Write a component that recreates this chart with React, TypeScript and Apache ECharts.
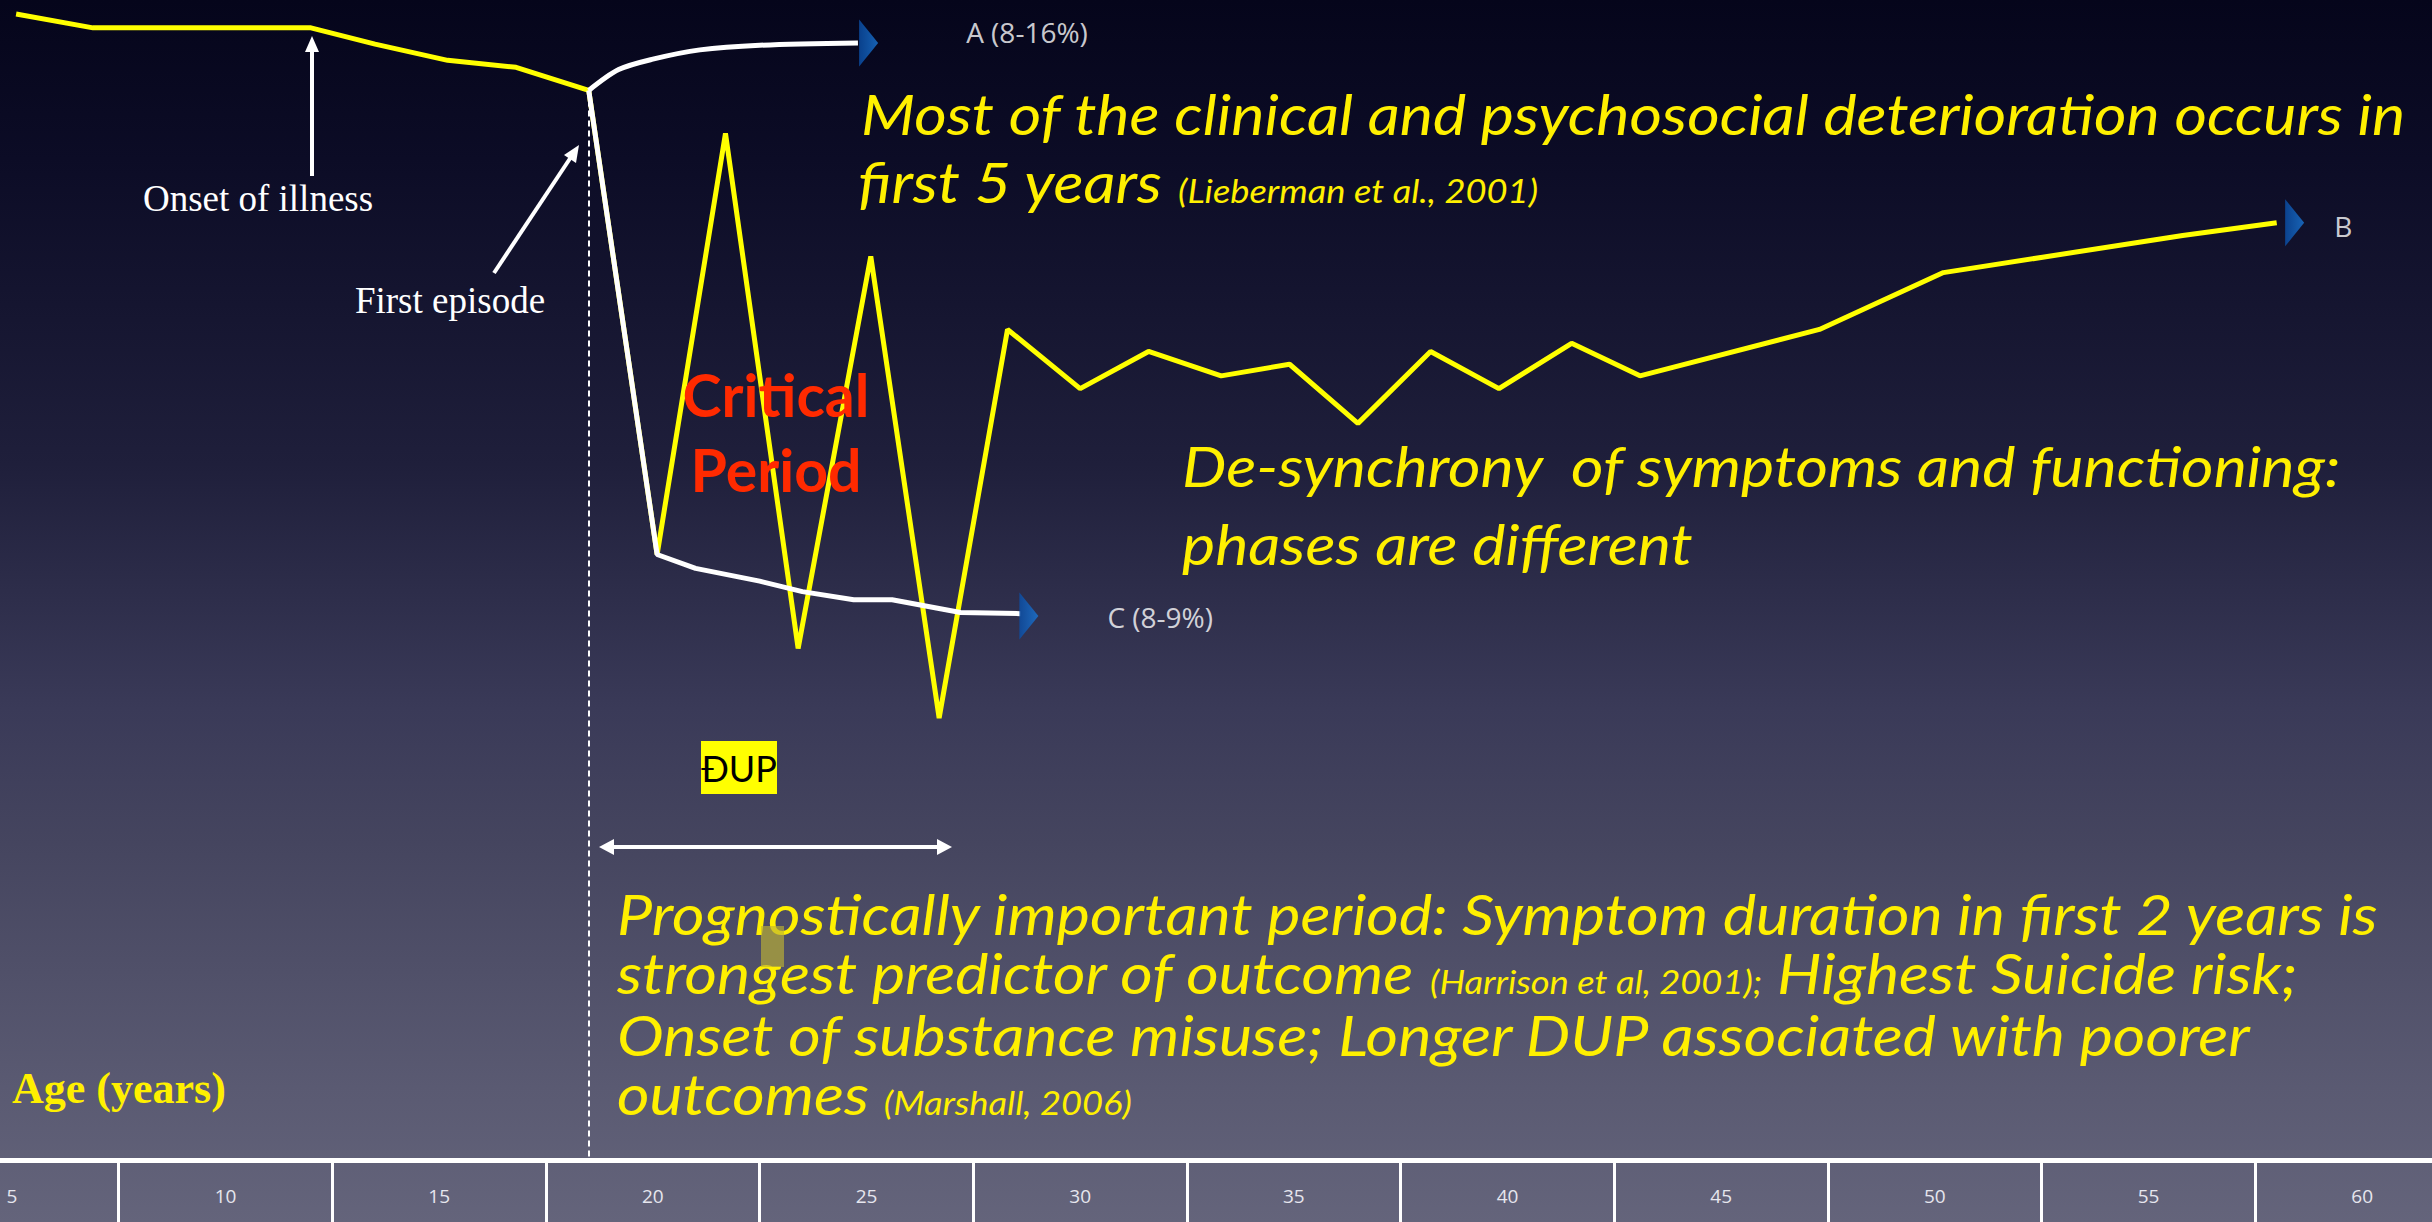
import React, { useEffect, useRef } from "react";
import * as echarts from "echarts";

// ---- data ----
const ageTicks = ["5", "10", "15", "20", "25", "30", "35", "40", "45", "50", "55", "60"];

// functioning / symptom course (yellow)
const yellowAges = [5.1, 6.9, 12.0, 13.5, 15.2, 16.8, 18.5, 20.1, 21.7, 23.4, 25.1, 26.7, 28.3, 30.0, 31.6, 33.3, 34.9, 36.5, 38.2, 39.8, 41.5, 43.1, 47.3, 50.2, 55.8, 58.0];
const yellowLevels = [98.8, 97.6, 97.6, 96.2, 94.8, 94.2, 92.2, 52.2, 88.5, 44.1, 77.9, 38.1, 71.6, 66.5, 69.7, 67.6, 68.6, 63.5, 69.7, 66.5, 70.4, 67.6, 71.6, 76.5, 79.7, 80.8];

// outcome A (white, recovery)
const whiteAAges = [18.5, 19.2, 20.0, 21.1, 22.5, 24.8];
const whiteALevels = [92.2, 94.0, 94.9, 95.7, 96.1, 96.3];

// outcome C (white, poor)
const whiteCAges = [18.5, 20.1, 21.0, 22.5, 23.5, 24.7, 25.6, 27.2, 28.6];
const whiteCLevels = [92.2, 52.2, 51.0, 49.9, 49.0, 48.3, 48.3, 47.2, 47.1];

// outcome arrow heads
const arrowNames = ["A (8-16%)", "C (8-9%)", "B"];
const arrowAges = [25.05, 28.8, 58.42];
const arrowLevels = [96.3, 46.9, 80.8];

const firstEpisodeAge = 18.5;
const firstEpisodeLevel = 92.2;

// ---- styles ----
const YELLOW_TEXT = "#fff000";
const SANS = "Lato, 'Open Sans', sans-serif";
const SERIF = "'Liberation Serif', 'DejaVu Serif', serif";
const OX = 95; // chart canvas starts 95px left of the page
const SX = 1.1;

function zip(a: number[], b: number[]) {
  return a.map((v, i) => [v, b[i]]);
}

export default function App() {
  const ref = useRef<HTMLDivElement>(null);

  useEffect(() => {
    if (!ref.current) return;
    const chart = echarts.init(ref.current, undefined, { renderer: "svg" });
    const gx = (x: number) => x + OX;

    const labelCfg = [
      { distance: 88, offset: [0, -11] },
      { distance: 69, offset: [0, 1] },
      { distance: 30, offset: [0, 3] },
    ];

    const bigStyle = { fontFamily: SANS, fontStyle: "italic", fontSize: 57, fill: YELLOW_TEXT };

    const rich = {
      b: { fontFamily: SANS, fontStyle: "italic", fontSize: 57, fill: YELLOW_TEXT, lineHeight: 68 },
      s: { fontFamily: SANS, fontStyle: "italic", fontSize: 33, fill: YELLOW_TEXT, lineHeight: 40, verticalAlign: "middle", padding: [18, 0, 0, 0] },
    };

    const option: any = {
      animation: false,
      backgroundColor: "transparent",
      grid: { left: 0, right: 0, top: 0, bottom: 62, containLabel: false },
      xAxis: [
        {
          type: "category",
          data: ageTicks,
          boundaryGap: true,
          position: "bottom",
          axisLine: { show: true, lineStyle: { color: "#ffffff", width: 5 } },
          axisTick: { show: true, length: 62, interval: 0, lineStyle: { color: "#ffffff", width: 3 } },
          axisLabel: { color: "#e6e6ee", fontSize: 19, margin: 26, fontFamily: "'Open Sans', sans-serif", interval: 0 },
          splitLine: { show: false },
        },
        { type: "value", min: 2.5, max: 62.5, show: false },
      ],
      yAxis: { type: "value", min: 0, max: 100, show: false },
      series: [
        {
          type: "line",
          xAxisIndex: 1,
          data: zip(yellowAges, yellowLevels),
          symbol: "none",
          lineStyle: { color: "#ffff00", width: 5 },
          z: 3,
          markLine: {
            silent: true,
            symbol: "none",
            label: { show: false },
            lineStyle: { color: "#ffffff", width: 2, type: [6, 4] },
            data: [[{ coord: [firstEpisodeAge, firstEpisodeLevel] }, { coord: [firstEpisodeAge, 0] }]],
          },
        },
        {
          type: "line",
          xAxisIndex: 1,
          data: zip(whiteAAges, whiteALevels),
          symbol: "none",
          smooth: 0.3,
          lineStyle: { color: "#ffffff", width: 5 },
          z: 4,
        },
        {
          type: "line",
          xAxisIndex: 1,
          data: zip(whiteCAges, whiteCLevels),
          symbol: "none",
          lineStyle: { color: "#ffffff", width: 5 },
          z: 4,
        },
        {
          type: "scatter",
          xAxisIndex: 1,
          symbol: "path://M0,0L1,0.5L0,1Z",
          symbolSize: [19, 47],
          itemStyle: {
            color: new echarts.graphic.LinearGradient(0, 0, 1, 0, [
              { offset: 0, color: "#0a4fa8" },
              { offset: 1, color: "#1a78d8" },
            ]),
          },
          z: 5,
          label: {
            show: true,
            position: "right",
            formatter: "{b}",
            color: "#ffffff",
            fontSize: 28,
            fontFamily: "'Open Sans', sans-serif",
          },
          data: arrowNames.map((n, i) => ({
            name: n,
            value: [arrowAges[i], arrowLevels[i]],
            label: labelCfg[i],
          })),
        },
      ],
      graphic: [
        // Onset of illness arrow
        { type: "line", shape: { x1: gx(312), y1: 176, x2: gx(312), y2: 48 }, style: { stroke: "#ffffff", lineWidth: 4 } },
        { type: "polygon", shape: { points: [[gx(312), 36], [gx(305), 52], [gx(319), 52]] }, style: { fill: "#ffffff" } },
        { type: "text", x: gx(258), y: 198, style: { text: "Onset of illness", fill: "#ffffff", fontFamily: SERIF, fontSize: 37, align: "center", verticalAlign: "middle" } },
        // First episode arrow
        { type: "line", shape: { x1: gx(494), y1: 273, x2: gx(571), y2: 157 }, style: { stroke: "#ffffff", lineWidth: 4 } },
        { type: "polygon", shape: { points: [[gx(579), 145], [gx(576), 163], [gx(564), 155]] }, style: { fill: "#ffffff" } },
        { type: "text", x: gx(450), y: 300, style: { text: "First episode", fill: "#ffffff", fontFamily: SERIF, fontSize: 37, align: "center", verticalAlign: "middle" } },
        // Age label
        { type: "text", x: gx(12), y: 1088, style: { text: "Age (years)", fill: YELLOW_TEXT, fontFamily: SERIF, fontWeight: "bold", fontSize: 44, align: "left", verticalAlign: "middle" } },
        // heading
        { type: "text", x: gx(861), y: 113, scaleX: SX, style: { ...bigStyle, text: "Most of the clinical and psychosocial deterioration occurs in", align: "left", verticalAlign: "middle" } },
        { type: "text", x: gx(858), y: 181, scaleX: SX, style: { text: "{b|first 5 years }{s|(Lieberman et al., 2001)}", rich, align: "left", verticalAlign: "middle" } },
        // Critical Period
        { type: "text", x: gx(776), y: 432, z: 10, style: { text: "Critical\nPeriod", fill: "#ff2a00", fontFamily: SANS, fontWeight: "bold", fontSize: 59, lineHeight: 75, align: "center", verticalAlign: "middle" } },
        // De-synchrony
        { type: "text", x: gx(1182), y: 465, scaleX: SX, style: { ...bigStyle, text: "De-synchrony  of symptoms and functioning:", align: "left", verticalAlign: "middle" } },
        { type: "text", x: gx(1182), y: 543, scaleX: SX, style: { ...bigStyle, text: "phases are different", align: "left", verticalAlign: "middle" } },
        // DUP box
        { type: "rect", shape: { x: gx(701), y: 741, width: 76, height: 53 }, style: { fill: "#ffff00" } },
        { type: "text", x: gx(739), y: 768, style: { text: "ĐUP", fill: "#000000", fontFamily: SANS, fontSize: 36, align: "center", verticalAlign: "middle" } },
        // DUP double arrow
        { type: "line", shape: { x1: gx(610), y1: 847, x2: gx(941), y2: 847 }, style: { stroke: "#ffffff", lineWidth: 4 } },
        { type: "polygon", shape: { points: [[gx(599), 847], [gx(614), 839], [gx(614), 855]] }, style: { fill: "#ffffff" } },
        { type: "polygon", shape: { points: [[gx(952), 847], [gx(937), 839], [gx(937), 855]] }, style: { fill: "#ffffff" } },
        // Prognostic paragraph
        { type: "text", x: gx(617), y: 913, scaleX: SX, style: { ...bigStyle, text: "Prognostically important period: Symptom duration in first 2 years is", align: "left", verticalAlign: "middle" } },
        { type: "text", x: gx(617), y: 972, scaleX: SX, style: { text: "{b|strongest predictor of outcome }{s|(Harrison et al, 2001);}{b| Highest Suicide risk;}", rich, align: "left", verticalAlign: "middle" } },
        { type: "text", x: gx(617), y: 1034, scaleX: SX, style: { ...bigStyle, text: "Onset of substance misuse; Longer DUP associated with poorer", align: "left", verticalAlign: "middle" } },
        { type: "text", x: gx(617), y: 1093, scaleX: SX, style: { text: "{b|outcomes }{s|(Marshall, 2006)}", rich, align: "left", verticalAlign: "middle" } },
        // faint marker
        { type: "rect", shape: { x: gx(761), y: 926, width: 23, height: 41 }, style: { fill: "rgba(190,180,50,0.65)" } },
      ],
    };

    chart.setOption(option);
    return () => chart.dispose();
  }, []);

  return (
    <div
      style={{
        position: "fixed",
        left: 0,
        top: 0,
        width: 2432,
        height: 1222,
        overflow: "hidden",
        background:
          "linear-gradient(to bottom, #05051b 0%, #0c0c26 13%, #1f1f3b 38%, #3a3a58 58%, #45455f 69%, #5a5a72 89%, #64647b 100%)",
      }}
    >
      <div ref={ref} style={{ position: "absolute", left: -OX, top: 0, width: 2432 + OX + 37, height: 1222 }} />
    </div>
  );
}
